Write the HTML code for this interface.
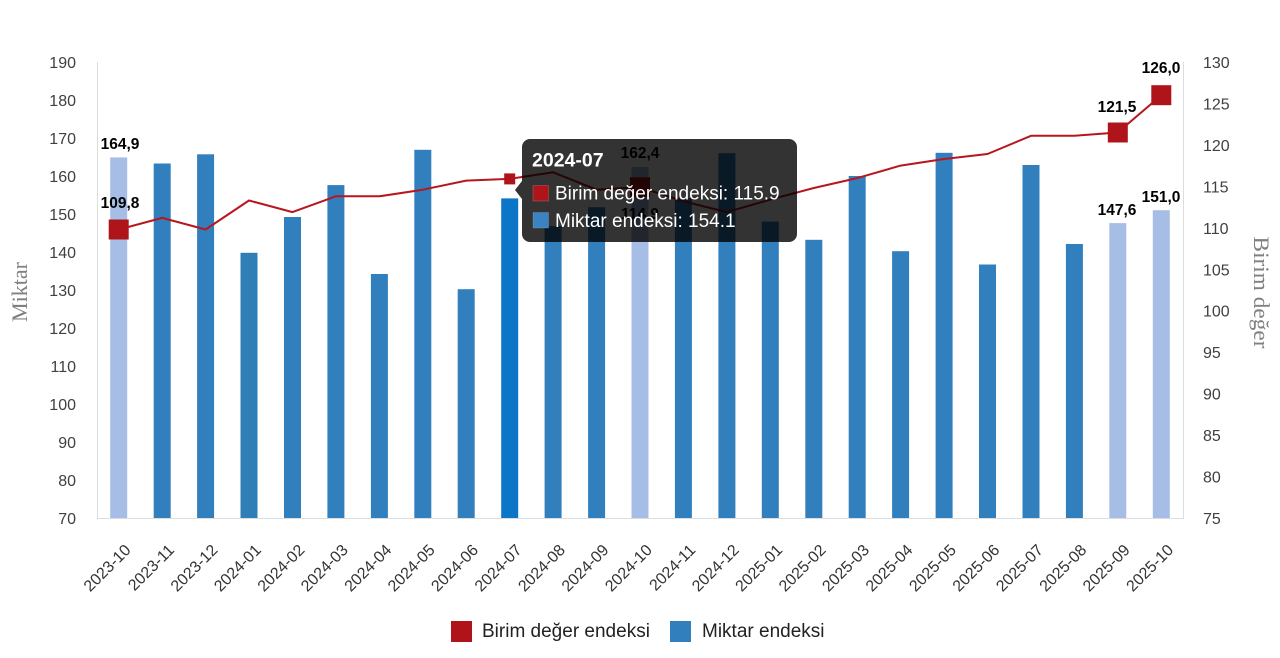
<!DOCTYPE html>
<html>
<head>
<meta charset="utf-8">
<style>
  html, body { margin: 0; padding: 0; background: #ffffff; }
  body { width: 1280px; height: 658px; overflow: hidden; }
  svg { display: block; }
  .tk { font-family: "Liberation Sans", sans-serif; font-size: 16px; fill: #404040; }
  .xl { font-family: "Liberation Sans", sans-serif; font-size: 16px; fill: #333333; }
  .dl { font-family: "Liberation Sans", sans-serif; font-size: 15.5px; font-weight: bold; fill: #000000; }
  .at { font-family: "Liberation Serif", serif; font-size: 22px; fill: #808080; }
  .lg { font-family: "Liberation Sans", sans-serif; font-size: 19px; fill: #222222; }
  .tt { font-family: "Liberation Sans", sans-serif; font-size: 19px; fill: #ffffff; }
</style>
</head>
<body>
<svg width="1280" height="658" viewBox="0 0 1280 658" xmlns="http://www.w3.org/2000/svg">
  <!-- axes -->
  <line x1="97.5" y1="62" x2="97.5" y2="518" stroke="#dddddd" stroke-width="1"/>
  <line x1="1183.5" y1="62" x2="1183.5" y2="518" stroke="#dddddd" stroke-width="1"/>
  <line x1="97" y1="518.5" x2="1184" y2="518.5" stroke="#dddddd" stroke-width="1"/>

  <!-- left ticks -->
  <g class="tk" text-anchor="end">
    <text x="76" y="68">190</text>
    <text x="76" y="106">180</text>
    <text x="76" y="144">170</text>
    <text x="76" y="182">160</text>
    <text x="76" y="220">150</text>
    <text x="76" y="258">140</text>
    <text x="76" y="296">130</text>
    <text x="76" y="334">120</text>
    <text x="76" y="372">110</text>
    <text x="76" y="410">100</text>
    <text x="76" y="448">90</text>
    <text x="76" y="486">80</text>
    <text x="76" y="524">70</text>
  </g>
  <!-- right ticks -->
  <g class="tk" text-anchor="start">
    <text x="1203" y="68">130</text>
    <text x="1203" y="109.5">125</text>
    <text x="1203" y="151">120</text>
    <text x="1203" y="192.4">115</text>
    <text x="1203" y="233.8">110</text>
    <text x="1203" y="275.3">105</text>
    <text x="1203" y="316.7">100</text>
    <text x="1203" y="358.2">95</text>
    <text x="1203" y="399.6">90</text>
    <text x="1203" y="441.1">85</text>
    <text x="1203" y="482.5">80</text>
    <text x="1203" y="524">75</text>
  </g>

  <!-- axis titles -->
  <text class="at" text-anchor="middle" transform="translate(27,292) rotate(-90)" textLength="60" lengthAdjust="spacingAndGlyphs">Miktar</text>
  <text class="at" text-anchor="middle" transform="translate(1254,292.5) rotate(90)" textLength="112" lengthAdjust="spacingAndGlyphs">Birim değer</text>

  <!-- bars -->
  <g>
    <rect x="110.2" y="157.4" width="17" height="360.6" fill="#a6bee6"/>
    <rect x="153.7" y="163.5" width="17" height="354.5" fill="#327fbd"/>
    <rect x="197.1" y="154.3" width="17" height="363.7" fill="#327fbd"/>
    <rect x="240.5" y="252.8" width="17" height="265.2" fill="#2f7fb6"/>
    <rect x="284.0" y="217.0" width="17" height="301.0" fill="#327fbd"/>
    <rect x="327.4" y="185.1" width="17" height="332.9" fill="#327fbd"/>
    <rect x="370.9" y="274.0" width="17" height="244.0" fill="#327fbd"/>
    <rect x="414.3" y="149.8" width="17" height="368.2" fill="#327fbd"/>
    <rect x="457.7" y="289.2" width="17" height="228.8" fill="#327fbd"/>
    <rect x="501.2" y="198.4" width="17" height="319.6" fill="#0b76c8"/>
    <rect x="544.6" y="226.2" width="17" height="291.8" fill="#327fbd"/>
    <rect x="588.1" y="207.2" width="17" height="310.8" fill="#327fbd"/>
    <rect x="631.5" y="166.9" width="17" height="351.1" fill="#a6bee6"/>
    <rect x="674.9" y="198.0" width="17" height="320.0" fill="#327fbd"/>
    <rect x="718.4" y="153.2" width="17" height="364.8" fill="#327fbd"/>
    <rect x="761.8" y="221.6" width="17" height="296.4" fill="#327fbd"/>
    <rect x="805.3" y="239.8" width="17" height="278.2" fill="#327fbd"/>
    <rect x="848.7" y="176.0" width="17" height="342.0" fill="#327fbd"/>
    <rect x="892.1" y="251.2" width="17" height="266.8" fill="#327fbd"/>
    <rect x="935.6" y="152.8" width="17" height="365.2" fill="#327fbd"/>
    <rect x="979.0" y="264.5" width="17" height="253.5" fill="#327fbd"/>
    <rect x="1022.5" y="165.0" width="17" height="353.0" fill="#327fbd"/>
    <rect x="1065.9" y="244.0" width="17" height="274.0" fill="#327fbd"/>
    <rect x="1109.3" y="223.1" width="17" height="294.9" fill="#a6bee6"/>
    <rect x="1152.8" y="210.2" width="17" height="307.8" fill="#a6bee6"/>
  </g>

  <!-- line -->
  <polyline fill="none" stroke="#b8161e" stroke-width="2" stroke-linejoin="round"
    points="118.7,229.5 162.2,217.9 205.6,229.5 249.0,200.5 292.5,212.1 335.9,196.3 379.4,196.3 422.8,189.7 466.2,180.6 509.7,178.9 553.1,172.3 596.6,189.7 640.0,187.2 683.4,201.3 726.9,212.1 770.3,199.6 813.8,188.0 857.2,178.1 900.6,165.6 944.1,159.0 987.5,154.0 1031.0,135.8 1074.4,135.8 1117.8,132.5 1161.3,95.2"/>

  <!-- markers -->
  <rect x="108.7" y="219.5" width="20" height="20" fill="#b0141b"/>
  <rect x="630" y="177.2" width="20" height="20" fill="#b0141b"/>
  <rect x="1107.8" y="122.5" width="20" height="20" fill="#b0141b"/>
  <rect x="1151.3" y="85.2" width="20" height="20" fill="#b0141b"/>
  <rect x="504.2" y="173.4" width="11" height="11" fill="#b0141b"/>

  <!-- data labels -->
  <g class="dl" text-anchor="middle">
    <text x="120" y="149">164,9</text>
    <text x="120" y="208">109,8</text>
    <text x="640" y="158">162,4</text>
    <text x="640" y="219">114,9</text>
    <text x="1117" y="215">147,6</text>
    <text x="1117" y="112">121,5</text>
    <text x="1161" y="202">151,0</text>
    <text x="1161" y="73">126,0</text>
  </g>

  <!-- x labels -->
  <g class="xl" text-anchor="end">
    <text transform="translate(131.7,551) rotate(-45)">2023-10</text>
    <text transform="translate(175.2,551) rotate(-45)">2023-11</text>
    <text transform="translate(218.6,551) rotate(-45)">2023-12</text>
    <text transform="translate(262.0,551) rotate(-45)">2024-01</text>
    <text transform="translate(305.5,551) rotate(-45)">2024-02</text>
    <text transform="translate(348.9,551) rotate(-45)">2024-03</text>
    <text transform="translate(392.4,551) rotate(-45)">2024-04</text>
    <text transform="translate(435.8,551) rotate(-45)">2024-05</text>
    <text transform="translate(479.2,551) rotate(-45)">2024-06</text>
    <text transform="translate(522.7,551) rotate(-45)">2024-07</text>
    <text transform="translate(566.1,551) rotate(-45)">2024-08</text>
    <text transform="translate(609.6,551) rotate(-45)">2024-09</text>
    <text transform="translate(653.0,551) rotate(-45)">2024-10</text>
    <text transform="translate(696.4,551) rotate(-45)">2024-11</text>
    <text transform="translate(739.9,551) rotate(-45)">2024-12</text>
    <text transform="translate(783.3,551) rotate(-45)">2025-01</text>
    <text transform="translate(826.8,551) rotate(-45)">2025-02</text>
    <text transform="translate(870.2,551) rotate(-45)">2025-03</text>
    <text transform="translate(913.6,551) rotate(-45)">2025-04</text>
    <text transform="translate(957.1,551) rotate(-45)">2025-05</text>
    <text transform="translate(1000.5,551) rotate(-45)">2025-06</text>
    <text transform="translate(1044.0,551) rotate(-45)">2025-07</text>
    <text transform="translate(1087.4,551) rotate(-45)">2025-08</text>
    <text transform="translate(1130.8,551) rotate(-45)">2025-09</text>
    <text transform="translate(1174.3,551) rotate(-45)">2025-10</text>
  </g>

  <!-- legend -->
  <rect x="451" y="621" width="21" height="21" fill="#b0141b"/>
  <text class="lg" x="482" y="637">Birim değer endeksi</text>
  <rect x="670" y="621" width="21" height="21" fill="#327fbd"/>
  <text class="lg" x="702" y="637">Miktar endeksi</text>

  <!-- tooltip -->
  <path d="M522,181 L515,190 L522,199 Z" fill="rgba(0,0,0,0.8)"/>
  <rect x="522" y="139" width="275" height="103" rx="8" ry="8" fill="rgba(0,0,0,0.8)"/>
  <text class="tt" x="532" y="166.5" style="font-weight:bold;font-size:19.5px">2024-07</text>
  <rect x="533" y="185.5" width="15.5" height="15.5" fill="#b0141b" stroke="#ffffff" stroke-opacity="0.15" stroke-width="1"/>
  <text class="tt" x="555" y="199.5">Birim değer endeksi: 115.9</text>
  <rect x="533" y="212.5" width="15.5" height="15.5" fill="#3a82c2" stroke="#ffffff" stroke-opacity="0.15" stroke-width="1"/>
  <text class="tt" x="555" y="227">Miktar endeksi: 154.1</text>
</svg>
</body>
</html>
